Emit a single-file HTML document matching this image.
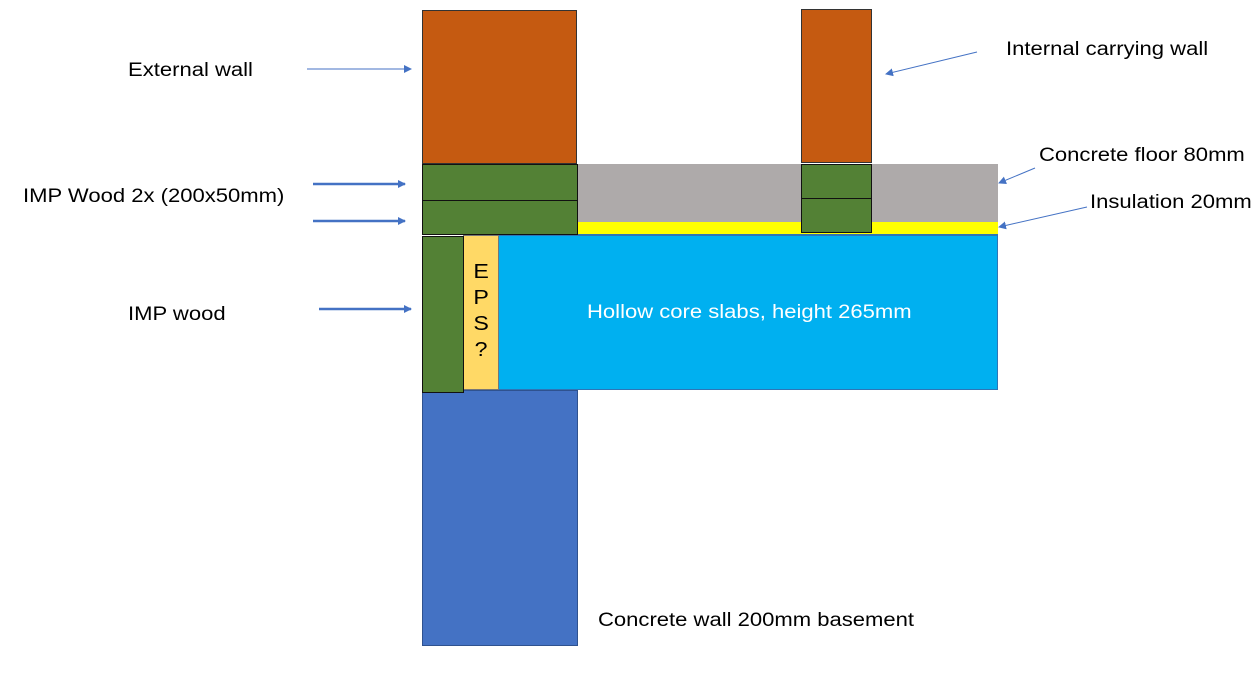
<!DOCTYPE html>
<html><head><style>
body{margin:0;width:1258px;height:685px;background:#fff;position:relative;overflow:hidden;font-family:"Liberation Sans",sans-serif;}
.r{position:absolute;box-sizing:border-box;}
.t{position:absolute;font-size:19px;color:#000;white-space:nowrap;line-height:1;transform:scaleX(1.16);transform-origin:0 0;}
</style></head><body>
<div class="r" style="left:422px;top:10px;width:155px;height:154px;background:#c55a11;border:1px solid #333"></div>
<div class="r" style="left:801px;top:9px;width:71px;height:154px;background:#c55a11;border:1px solid #333"></div>
<div class="r" style="left:577px;top:164px;width:421px;height:59px;background:#aeaaaa"></div>
<div class="r" style="left:577px;top:222px;width:421px;height:13px;background:#ffff00;border-bottom:1px solid #2e75b6"></div>
<div class="r" style="left:422px;top:164px;width:156px;height:37px;background:#538135;border:1px solid #111"></div>
<div class="r" style="left:422px;top:200px;width:156px;height:35px;background:#538135;border:1px solid #111"></div>
<div class="r" style="left:801px;top:164px;width:71px;height:35px;background:#538135;border:1px solid #111"></div>
<div class="r" style="left:801px;top:198px;width:71px;height:35px;background:#538135;border:1px solid #111"></div>
<div class="r" style="left:422px;top:390px;width:156px;height:256px;background:#4472c4;border:1px solid #2f528f"></div>
<div class="r" style="left:497px;top:235px;width:501px;height:155px;background:#00b0f0;border:1px solid #2e75b6"></div>
<div class="r" style="left:463px;top:235px;width:36px;height:155px;background:#ffd966;border:1px solid #777"></div>
<div class="r" style="left:422px;top:236px;width:42px;height:157px;background:#538135;border:1px solid #111"></div>
<div class="t" style="left:473px;top:259px;font-size:20px;line-height:26px;text-align:center;width:14px;">E<br>P<br>S<br>?</div>
<div class="t" style="left:587px;top:303px;color:#fff;">Hollow core slabs, height 265mm</div>
<div class="t" style="left:128px;top:61px">External wall</div>
<div class="t" style="left:1006px;top:40px">Internal carrying wall</div>
<div class="t" style="left:1039px;top:146px">Concrete floor 80mm</div>
<div class="t" style="left:1090px;top:193px">Insulation 20mm</div>
<div class="t" style="left:23px;top:187px">IMP Wood 2x (200x50mm)</div>
<div class="t" style="left:128px;top:305px">IMP wood</div>
<div class="t" style="left:598px;top:611px">Concrete wall 200mm basement</div>
<svg class="r" style="left:0;top:0" width="1258" height="685">
<defs><marker id="a" markerWidth="8" markerHeight="8" refX="7" refY="4" orient="auto" markerUnits="userSpaceOnUse"><path d="M0,0L8,4L0,8z" fill="#4472c4"/></marker></defs>
<g stroke="#4472c4" fill="none" marker-end="url(#a)">
<line x1="307" y1="69" x2="411" y2="69" stroke-width="1"/>
<line x1="977" y1="52" x2="886" y2="74" stroke-width="1"/>
<line x1="313" y1="184" x2="405" y2="184" stroke-width="2.5"/>
<line x1="313" y1="221" x2="405" y2="221" stroke-width="2.5"/>
<line x1="319" y1="309" x2="411" y2="309" stroke-width="2.5"/>
<line x1="1035" y1="168" x2="999" y2="183" stroke-width="1"/>
<line x1="1087" y1="207" x2="999" y2="227" stroke-width="1"/>
</g></svg>
</body></html>
